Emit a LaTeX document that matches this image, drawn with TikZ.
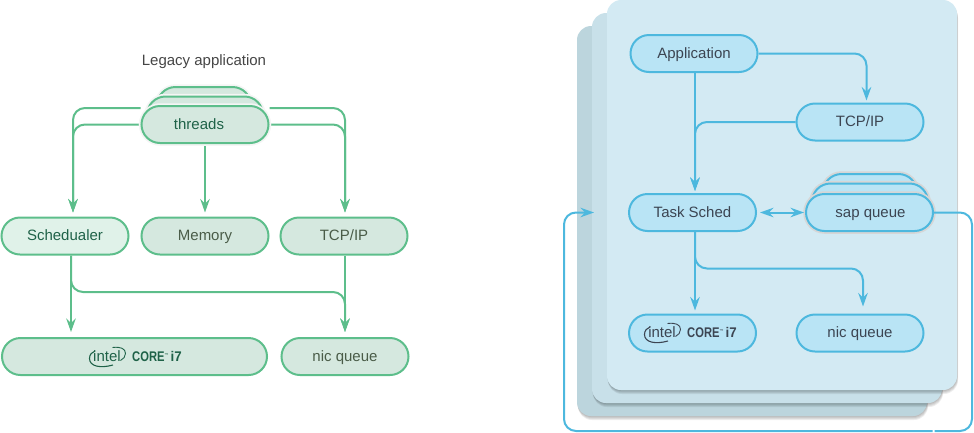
\documentclass[tikz,border=0pt]{standalone}
\usepackage{fontspec}
\setmainfont{Liberation Sans}
\usetikzlibrary{arrows.meta,backgrounds,shapes.misc}
\definecolor{greenline}{HTML}{5DBE8B}
\definecolor{greenfill}{HTML}{D5E8DF}
\definecolor{greenpale}{HTML}{E0F2E9}
\definecolor{greentext}{HTML}{1F6248}
\definecolor{olivetext}{HTML}{4A5C48}
\definecolor{blueline}{HTML}{4DB8DE}
\definecolor{bluefill}{HTML}{B9E4F5}
\definecolor{bluetext}{HTML}{3C4552}
\definecolor{titletext}{HTML}{454545}
\definecolor{panelfront}{HTML}{D3EAF3}
\definecolor{panelmid}{HTML}{C8E0E9}
\definecolor{panelback}{HTML}{BCD5DD}
\tikzset{
  >={Stealth[length=13.5pt,width=9.5pt,inset=4.5pt]},
  pill/.style={rounded rectangle, minimum height=37pt, minimum width=127pt, inner sep=0pt, line width=2pt, text height=11pt, text depth=2pt, font=\fontsize{15}{18}\selectfont},
  greenpill/.style={pill, draw=greenline, fill=greenfill, text=olivetext},
  bluepill/.style={pill, draw=blueline, fill=bluefill, text=bluetext},
  greenstack/.style={greenpill, preaction={draw=black!4, line width=5.5pt}},
  bluestack/.style={bluepill, preaction={draw=black!16, line width=5.5pt}},
  greenlink/.style={draw=greenline, line width=2pt, rounded corners=12pt, ->},
  bluelink/.style={draw=blueline, line width=2pt, rounded corners=12pt, ->},
  inteltext/.style={font=\fontsize{15}{16}\selectfont, inner sep=0pt},
  coretext/.style={font=\fontsize{14}{16}\selectfont\bfseries, inner sep=0pt, anchor=west},
  intelswoosh/.pic={
    \draw [pic actions, line width=1.1pt] (6.5,8.5) .. controls (-6,12) and (-17,10) .. (-17,2) .. controls (-17,-2) and (-14.5,-4.5) .. (-11.5,-5.5);
    \draw [pic actions, line width=.9pt] (6,-9) .. controls (14,-10) and (19,-8) .. (19,-3) .. controls (19,0) and (17,2.5) .. (14,4);
  },
}
\newcommand{\coreword}{\scalebox{.8}[1]{CORE}\raisebox{5pt}{\fontsize{4}{4}\selectfont ™}\hspace{2pt}\scalebox{.95}[1]{i7}}
\begin{document}
\begin{tikzpicture}[x=1pt,y=-1pt]
  \useasboundingbox (0,0) rectangle (974,432);

  % panels, each with a soft shadow
  \foreach \pleft/\ptop/\pcol in {577/26/panelback, 592/13/panelmid, 607/0/panelfront} {
    \foreach \off in {1,2,3,4} {
      \fill [black, opacity=.07, rounded corners=14pt] (\pleft+\off/4,\ptop+\off) rectangle (\pleft+350+\off/4,\ptop+390+\off);
    }
    \fill [\pcol, rounded corners=14pt] (\pleft,\ptop) rectangle (\pleft+350,\ptop+390);
  }

  % left side
  \node [font=\fontsize{15}{18}\selectfont, text=titletext] at (204,62) (legacy) {Legacy application};

  \node [greenstack, minimum width=94pt] at (204,105.5) (threadsC) {};
  \node [greenstack, minimum width=116pt] at (205,115) (threadsB) {};
  \node [greenstack, text=greentext] at (205,124.5) (threads) {threads\kern12pt};

  \node [greenpill, fill=greenpale, text=greentext] at (65,236) (sched) {Schedualer};
  \node [greenpill] at (205,236) (memory) {Memory};
  \node [greenpill] at (344,236) (tcpL) {TCP/IP};
  \node [greenpill, minimum width=265pt] at (134.5,356.5) (coreL) {};
  \node [greenpill] at (345,356.5) (nicL) {nic queue};

  \node [inteltext, text=greentext] at (107,356.5) (intelL) {intel};
  \node [coretext, text=greentext] at (132,356.5) (cpuL) {\coreword};
  \pic [draw=greentext] at (106.5,356.5) {intelswoosh};

  \coordinate (nicbendL) at (345,292);
  \begin{scope}[on background layer]
    \draw [greenlink] ([yshift=16.5pt]threads.west) -| ([xshift=8pt,yshift=4pt]sched.north);
    \draw [greenlink] (threads.west) -| ([xshift=8pt,yshift=4pt]sched.north);
    \draw [greenlink] ([yshift=16.5pt]threads.east) -| ([xshift=1pt,yshift=4pt]tcpL.north);
    \draw [greenlink] (threads.east) -| ([xshift=1pt,yshift=4pt]tcpL.north);
    \draw [greenlink] (threads.south) -- ([yshift=4pt]memory.north);
    \draw [greenlink] ([xshift=6pt]sched.south) -- ([xshift=-63.5pt,yshift=5pt]coreL.north);
    \draw [greenlink] ([xshift=6pt]sched.south) |- (nicbendL) -- ([yshift=5pt]nicL.north);
    \draw [greenlink] ([xshift=1pt]tcpL.south) -- ([yshift=5pt]nicL.north);
  \end{scope}

  % right side
  \node [bluepill] at (694,53.5) (app) {Application};
  \node [bluepill] at (860,122) (tcpR) {TCP/IP};
  \node [bluepill] at (692.5,212.5) (task) {Task Sched};
  \node [bluestack, minimum width=94pt] at (870,192.5) (sapC) {};
  \node [bluestack, minimum width=116pt] at (870,202) (sapB) {};
  \node [bluestack] at (869.5,212.5) (sap) {\hspace{2pt}sap queue};
  \node [bluepill] at (692.5,333) (coreR) {};
  \node [bluepill] at (860,333) (nicR) {nic queue};

  \node [inteltext, text=bluetext] at (662,332.5) (intelR) {intel};
  \node [coretext, text=bluetext] at (687,332.5) (cpuR) {\coreword};
  \pic [draw=bluetext] at (661.5,332.5) {intelswoosh};

  \coordinate (nicbendR) at (863,268.5);
  \coordinate (loopend) at (594,212.5);
  \coordinate (loopright) at (972,431);
  \coordinate (loopleft) at (564,431);
  \coordinate (loopgapR) at (934.5,431);
  \coordinate (loopgapL) at (932.5,431);
  \draw [bluelink] (app.east) -| ([xshift=6.5pt,yshift=2pt]tcpR.north);
  \draw [bluelink] ([xshift=1pt]app.south) -- ([xshift=2.5pt,yshift=2pt]task.north);
  \draw [bluelink] (tcpR.west) -| ([xshift=2.5pt,yshift=2pt]task.north);
  \draw [draw=blueline, line width=2pt, <->] ([xshift=3pt]task.east) -- ([xshift=-1pt]sap.west);
  \draw [bluelink] ([xshift=2.5pt]task.south) -- ([xshift=2.5pt,yshift=3pt]coreR.north);
  \draw [bluelink] ([xshift=2.5pt]task.south) |- (nicbendR) -- ([xshift=3pt,yshift=7pt]nicR.north);
  \draw [bluelink, -] (sap.east) -| (loopright) -- (loopgapR);
  \draw [bluelink] (loopgapL) -- (loopleft) |- (loopend);
\end{tikzpicture}
\end{document}
